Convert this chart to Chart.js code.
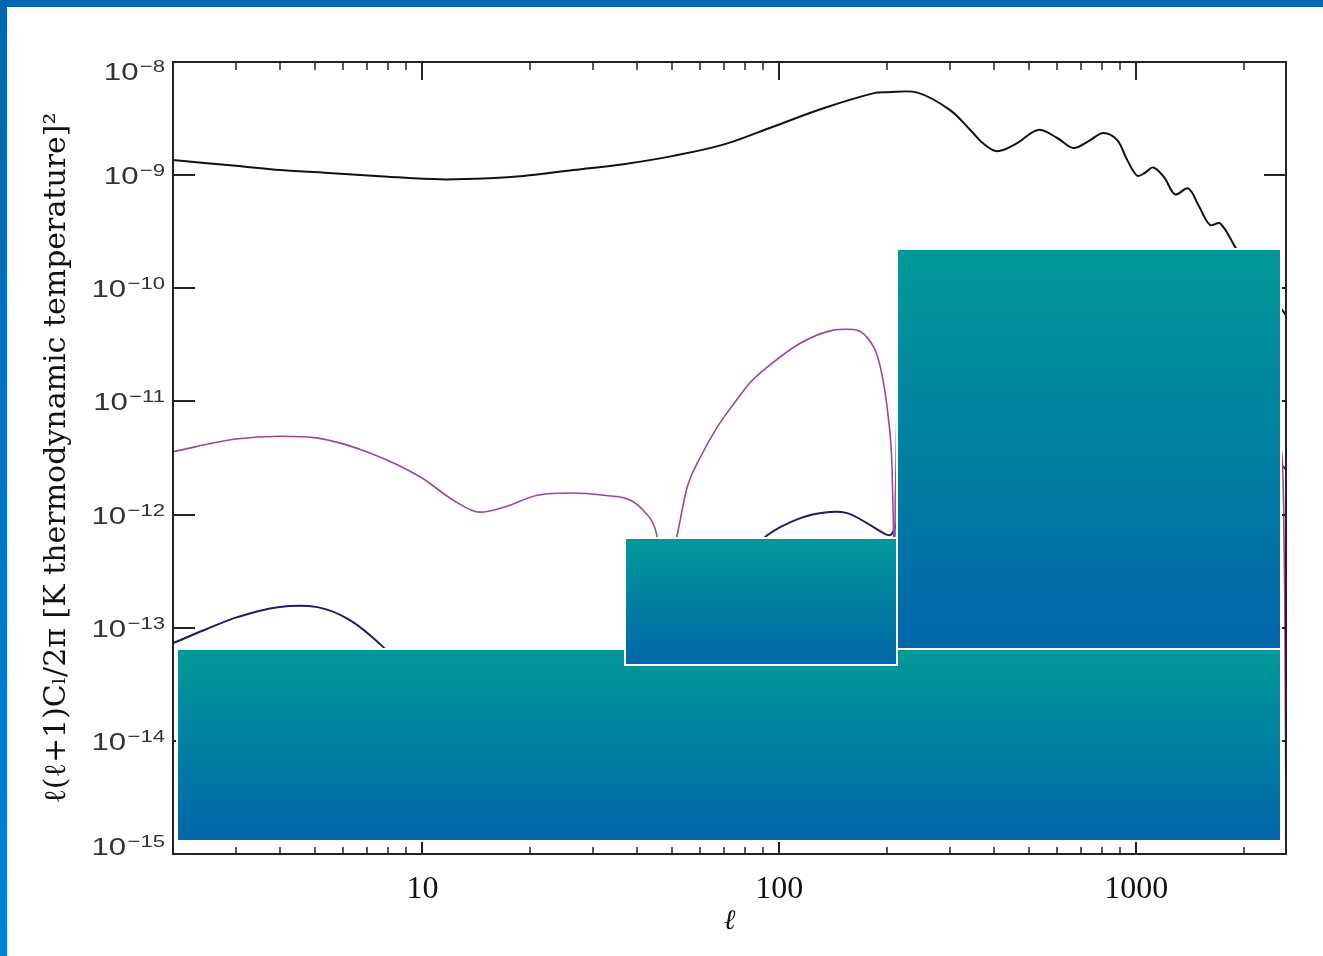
<!DOCTYPE html>
<html>
<head>
<meta charset="utf-8">
<script src="https://cdn.jsdelivr.net/npm/chart.js@4/dist/chart.umd.min.js"></script>
<style>
  html, body { margin: 0; padding: 0; background: #fff; overflow: hidden; }
  #wrap { position: relative; width: 1323px; height: 956px; }
  canvas { position: absolute; left: 0; top: 0; }
  .band-top { position: absolute; left: 0; top: 0; width: 1323px; height: 7px; background: #0066b0; }
  .band-left { position: absolute; left: 0; top: 0; width: 7px; height: 956px; background: linear-gradient(#0066b0, #0082d8); }
  .box { position: absolute; box-sizing: border-box; border: 2px solid #fff; background: linear-gradient(#009999, #0066aa); }
</style>
</head>
<body>
<div id="wrap">
  <canvas id="spectra" width="1323" height="956"></canvas>
  <div class="band-top"></div>
  <div class="band-left"></div>
  <div class="box" style="left:176px; top:648px; width:1106px; height:194px;"></div>
  <div class="box" style="left:896px; top:248px; width:386px; height:402px;"></div>
  <div class="box" style="left:624px; top:537px; width:274px; height:129px;"></div>
</div>
<script>
// multipole values and l(l+1)C_l/2pi
const ttEll = [2, 3, 4, 5.6, 8, 11.2, 15.5, 19.2, 26.5, 36.6, 50.5, 70, 96, 133, 183, 201, 244, 301, 343, 372, 408, 464, 531, 601, 666, 740, 809, 885, 944, 1007, 1060, 1117, 1200, 1286, 1399, 1500, 1612, 1719, 1918, 2100, 2300, 2630];
const ttVal = [1.36e-9, 1.21e-9, 1.11e-9, 1.04e-9, 9.68e-10, 9.18e-10, 9.38e-10, 9.82e-10, 1.11e-9, 1.25e-9, 1.48e-9, 1.87e-9, 2.68e-9, 3.90e-9, 5.28e-9, 5.40e-9, 5.36e-9, 3.76e-9, 2.51e-9, 1.92e-9, 1.63e-9, 1.92e-9, 2.51e-9, 2.13e-9, 1.74e-9, 2.02e-9, 2.36e-9, 2.04e-9, 1.36e-9, 9.88e-10, 1.05e-9, 1.17e-9, 9.5e-10, 6.76e-10, 7.64e-10, 5.3e-10, 3.62e-10, 3.75e-10, 2.18e-10, 1.5e-10, 1.0e-10, 5.8e-11];

const teEll = [2, 3, 4, 5.1, 7.15, 9.9, 12.2, 14.5, 16.9, 21, 26, 32.2, 38.3, 42, 45, 46, 47, 47.8, 48.2, 48.6, 49.5, 50.5, 52.1, 55.2, 60.1, 67, 74.3, 83, 92.5, 114.5, 141.6, 155, 176, 192, 202, 207, 209, 210, 210.5, 211, 212, 213, 214, 220, 260, 320, 450, 700, 1000, 1500, 2000, 2545, 2590, 2610, 2625];
const teVal = [3.6e-12, 4.65e-12, 4.93e-12, 4.74e-12, 3.49e-12, 2.14e-12, 1.34e-12, 1.05e-12, 1.16e-12, 1.48e-12, 1.55e-12, 1.48e-12, 1.34e-12, 1.05e-12, 7.3e-13, 5e-13, 2.8e-13, 9e-14, 3e-15, 8e-14, 2.5e-13, 4.5e-13, 7.3e-13, 1.75e-12, 3.21e-12, 5.93e-12, 9.4e-12, 1.48e-11, 2.01e-11, 3.27e-11, 4.27e-11, 4.35e-11, 3.70e-11, 2.01e-11, 7.26e-12, 2.62e-12, 7.3e-13, 2.5e-13, 4e-15, 5e-13, 2e-12, 5e-12, 1.1e-11, 3e-11, 4e-11, 1.5e-11, 5e-12, 8e-12, 6e-12, 5e-12, 4e-12, 3.8e-12, 1.2e-12, 1.6e-13, 5e-15];

const eeEll = [2, 2.44, 3.03, 3.93, 5.08, 6.28, 7.78, 9, 11, 15, 20, 30, 45, 60, 75, 92.5, 114.5, 136, 155, 176, 196, 205, 212, 230, 400, 800, 1200, 2000, 2630];
const eeVal = [7.3e-14, 9.5e-14, 1.24e-13, 1.52e-13, 1.52e-13, 1.16e-13, 6.7e-14, 4e-14, 1.5e-14, 4e-15, 3e-15, 8e-15, 5e-14, 1.5e-13, 3.5e-13, 6.57e-13, 9.3e-13, 1.05e-12, 1.03e-12, 8.4e-13, 6.85e-13, 6.6e-13, 8e-13, 1.5e-12, 4e-12, 1e-11, 1.4e-11, 6e-12, 2.5e-12];

const xTicks = [2, 3, 4, 5, 6, 7, 8, 9, 10, 20, 30, 40, 50, 60, 70, 80, 90, 100, 200, 300, 400, 500, 600, 700, 800, 900, 1000, 2000];
const xLabels = [10, 100, 1000];
const yTicks = [1e-15, 1e-14, 1e-13, 1e-12, 1e-11, 1e-10, 1e-9, 1e-8];

const pts = (xs, ys) => xs.map((x, i) => ({ x: x, y: ys[i] }));

// box, inward tick marks and the 10^n labels on the y axis
const framePlugin = {
    id: 'frame',
    afterDatasetsDraw(chart) {
        const { ctx, chartArea: a, scales: { x, y } } = chart;
        ctx.save();
        ctx.strokeStyle = '#222';
        ctx.lineWidth = 2;
        ctx.strokeRect(a.left, a.top, a.right - a.left, a.bottom - a.top);
        const seg = (x1, y1, x2, y2) => { ctx.beginPath(); ctx.moveTo(x1, y1); ctx.lineTo(x2, y2); ctx.stroke(); };
        x.ticks.forEach(t => {
            const px = Math.round(x.getPixelForValue(t.value));
            const big = xLabels.includes(t.value);
            ctx.lineWidth = big ? 2 : 1.5;
            seg(px, a.top, px, a.top + (big ? 18 : 8));
            seg(px, a.bottom, px, a.bottom - (big ? 12 : 7));
        });
        ctx.lineWidth = 2;
        ctx.fillStyle = '#333';
        y.ticks.forEach((t, i) => {
            const py = Math.round(y.getPixelForValue(t.value));
            seg(a.left, py, a.left + 22, py);
            seg(a.right, py, a.right - 22, py);
            let base = py + 8.5;
            if (i === 0) base = py + 1;
            if (i === y.ticks.length - 1) base = py + 18;
            const exp = '\u2212' + Math.round(-Math.log10(t.value));
            ctx.save();
            ctx.translate(a.left - 8, 0);
            ctx.scale(1.3, 1);
            ctx.textAlign = 'right';
            ctx.textBaseline = 'alphabetic';
            ctx.font = '17px "Liberation Sans"';
            const ew = ctx.measureText(exp).width;
            ctx.fillText(exp, 0, base - 8);
            ctx.font = '24px "Liberation Sans"';
            ctx.fillText('10', -ew - 1, base);
            ctx.restore();
        });
        ctx.restore();
    }
};

const ctx = document.getElementById('spectra').getContext('2d');
new Chart(ctx, {
    type: 'line',
    data: {
        datasets: [
            { label: 'TT', data: pts(ttEll, ttVal), borderColor: '#111', borderWidth: 2, tension: 0.35 },
            { label: 'TE', data: pts(teEll, teVal), borderColor: '#a3449a', borderWidth: 1.6, cubicInterpolationMode: 'monotone' },
            { label: 'EE', data: pts(eeEll, eeVal), borderColor: '#1c1c6c', borderWidth: 2, tension: 0.35 }
        ]
    },
    options: {
        responsive: false,
        animation: false,
        events: [],
        elements: {
            point: { radius: 0 },
            line: { fill: false }
        },
        layout: { padding: { left: 0, right: 37, top: 62, bottom: 0 } },
        plugins: { legend: { display: false }, tooltip: { enabled: false } },
        scales: {
            x: {
                type: 'logarithmic',
                min: 2,
                max: 2630,
                grid: { display: false },
                border: { display: false },
                afterBuildTicks: s => { s.ticks = xTicks.map(v => ({ value: v })); },
                afterFit: s => { s.height = 102; },
                ticks: {
                    autoSkip: false,
                    maxRotation: 0,
                    padding: 8,
                    color: '#111',
                    font: { family: 'Liberation Serif', size: 32 },
                    callback: v => xLabels.includes(v) ? String(v) : ''
                },
                title: {
                    display: true,
                    text: 'ℓ',
                    color: '#111',
                    font: { family: 'DejaVu Serif', style: 'italic', size: 28 },
                    padding: { top: 0, bottom: 17 }
                }
            },
            y: {
                type: 'logarithmic',
                min: 1e-15,
                max: 1e-8,
                grid: { display: false },
                border: { display: false },
                afterBuildTicks: s => { s.ticks = yTicks.map(v => ({ value: v })); },
                afterFit: s => { s.width = 173; },
                ticks: { display: false },
                title: {
                    display: true,
                    text: 'ℓ(ℓ+1)Cₗ/2π [K thermodynamic temperature]²',
                    color: '#111',
                    font: { family: 'DejaVu Serif', size: 30 },
                    padding: { top: 39, bottom: 0 }
                }
            }
        }
    },
    plugins: [framePlugin]
});
</script>
</body>
</html>
